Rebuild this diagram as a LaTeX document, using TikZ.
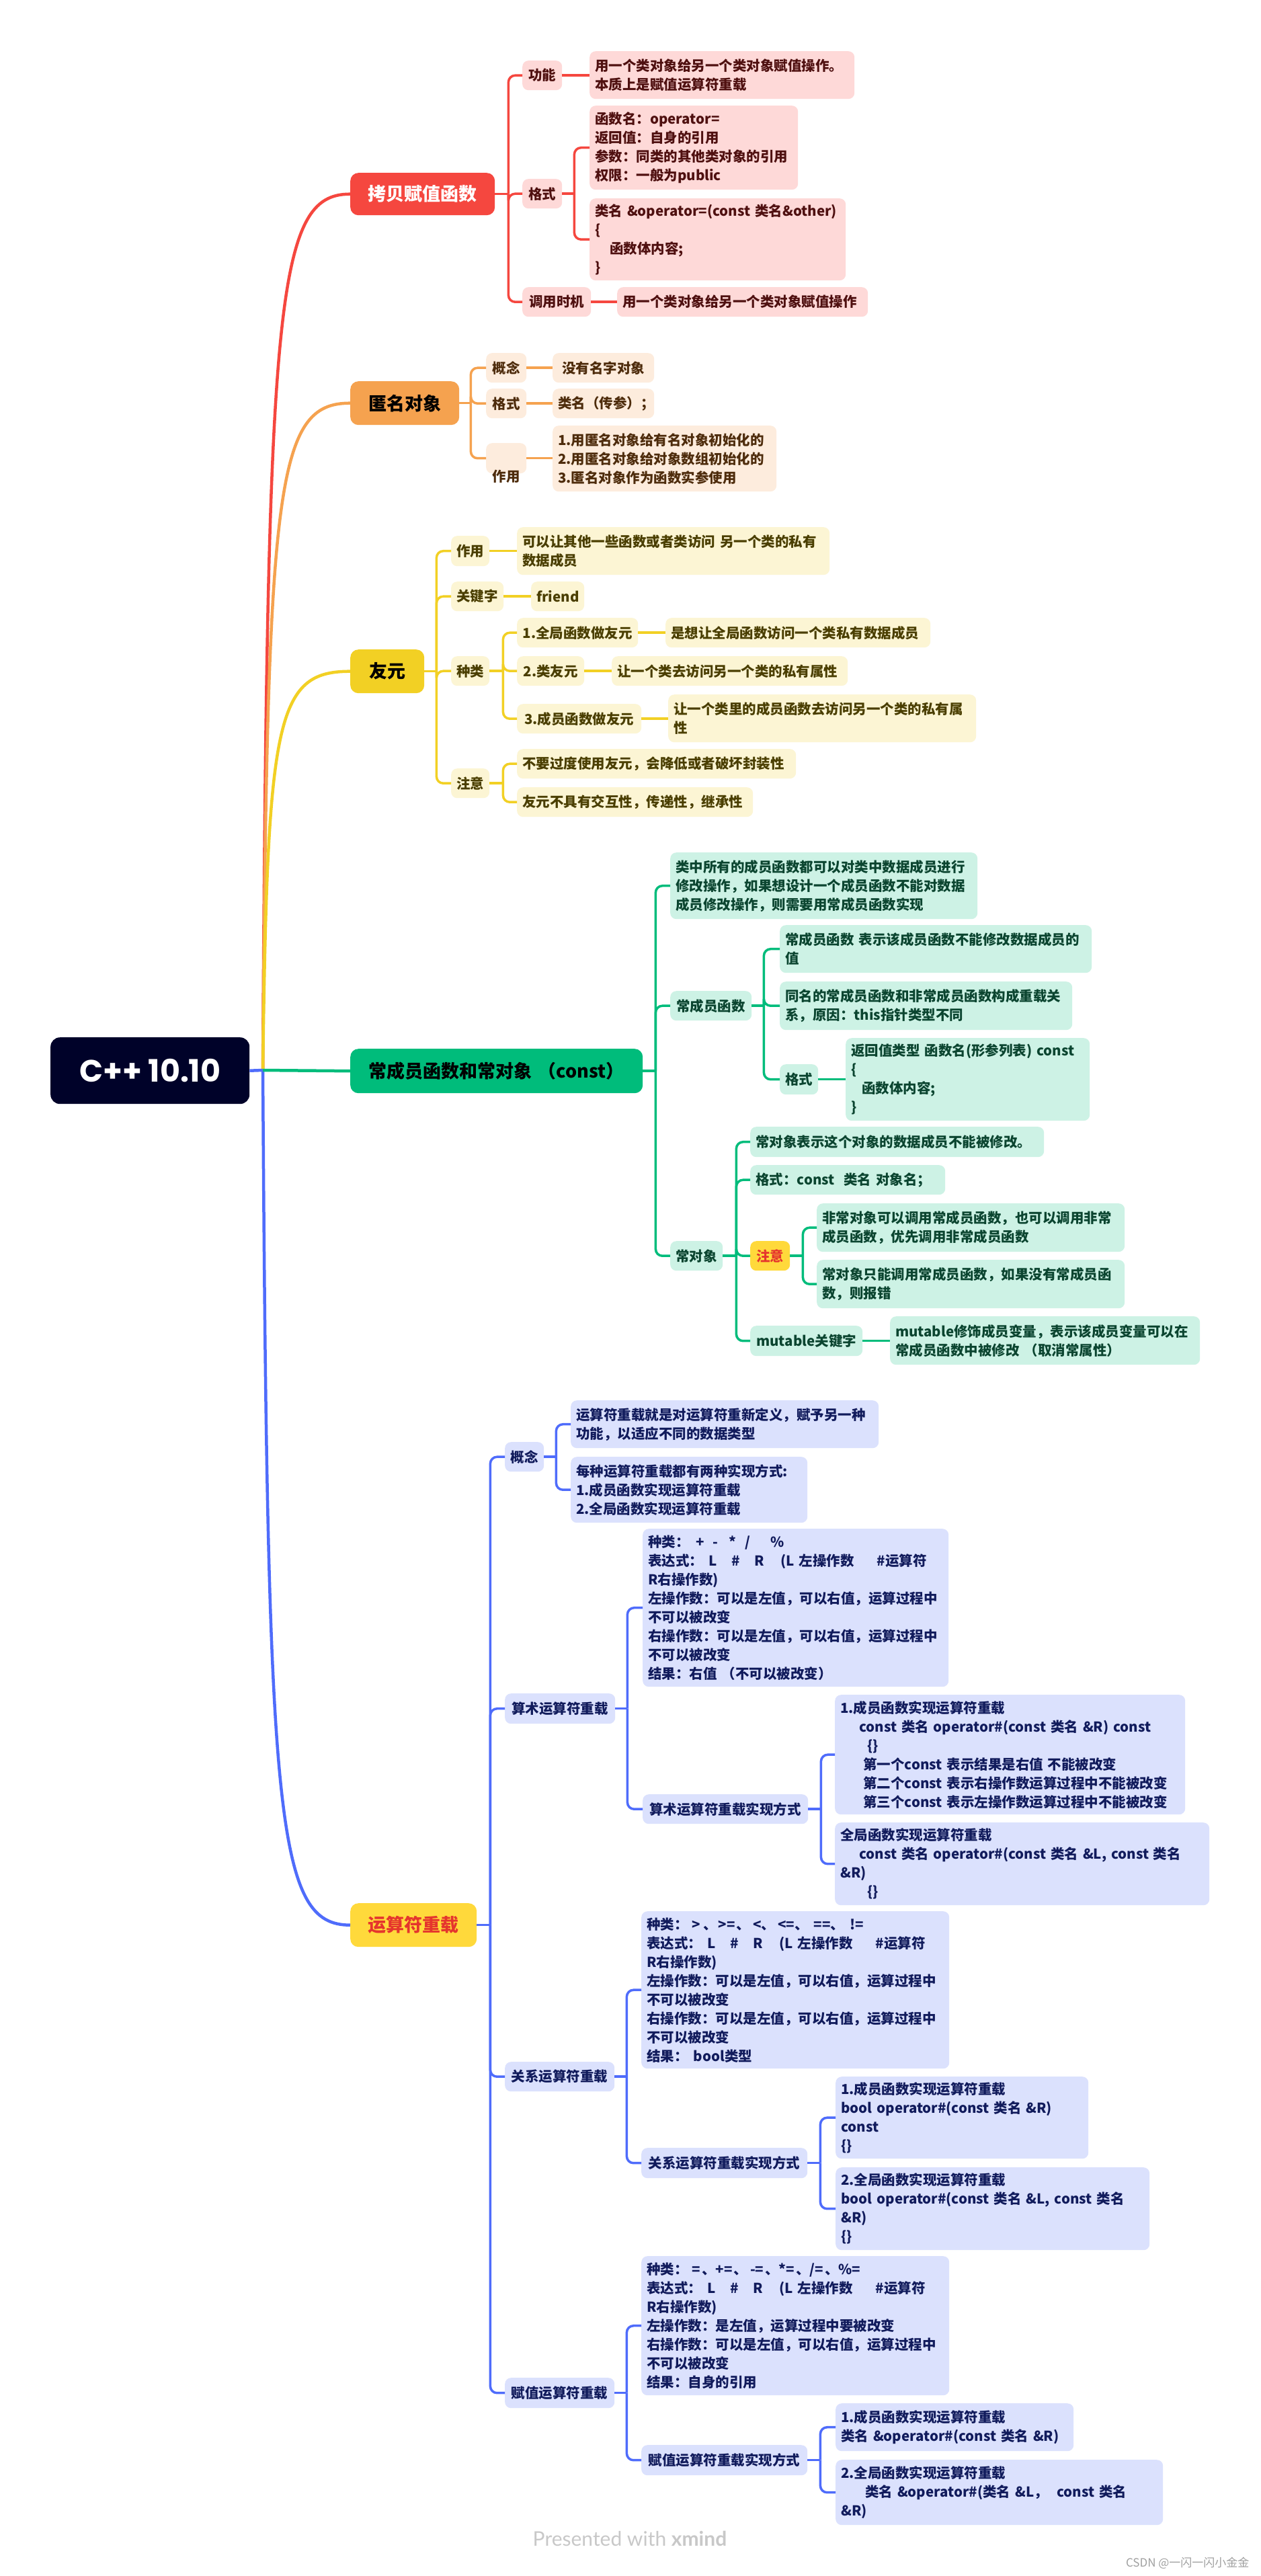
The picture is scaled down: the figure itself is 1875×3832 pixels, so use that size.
\documentclass[tikz,border=0pt]{standalone}
\usepackage{fontspec}
\setmainfont{Noto Sans CJK SC}
\newfontfamily\rootfont{Poppins}
\newfontfamily\footfont{Lato}
\definecolor{rootC}{HTML}{000229}
\definecolor{redC}{HTML}{F5473F}
\definecolor{redL}{HTML}{FED9D8}
\definecolor{redT}{HTML}{4F1010}
\definecolor{orgC}{HTML}{F5A24F}
\definecolor{orgL}{HTML}{FDECDD}
\definecolor{orgT}{HTML}{4E2C0C}
\definecolor{yelC}{HTML}{F2D024}
\definecolor{yelL}{HTML}{FCF5D4}
\definecolor{yelT}{HTML}{4A3E00}
\definecolor{grnC}{HTML}{00BC7B}
\definecolor{grnL}{HTML}{CDF2E5}
\definecolor{grnT}{HTML}{0B4530}
\definecolor{bluC}{HTML}{4F6CFB}
\definecolor{bluL}{HTML}{DBE1FD}
\definecolor{bluT}{HTML}{111B5C}
\definecolor{goldC}{HTML}{FFD93B}
\definecolor{warnT}{HTML}{E5352D}
\definecolor{footC}{HTML}{C8C8C8}
\tikzset{
 base/.style={anchor=north west, rounded corners=9pt, inner xsep=8pt, inner ysep=1pt, font=\bfseries\fontsize{20.5}{28}\selectfont, align=left},
 ctr/.style={align=center},
 rbx/.style={base, fill=redL, text=redT},
 obx/.style={base, fill=orgL, text=orgT},
 ybx/.style={base, fill=yelL, text=yelT},
 gbx/.style={base, fill=grnL, text=grnT},
 bbx/.style={base, fill=bluL, text=bluT},
 mainbox/.style={anchor=north west, rounded corners=12pt, inner xsep=8pt, font=\bfseries\fontsize{27}{32}\selectfont, align=center},
 conn/.style={line width=3.5pt, rounded corners=10pt},
 mline/.style={line width=4.5pt},
}
\newcommand\bx[7]{\pgfmathsetmacro\bxtw{#4-16}\node[#6, minimum width=#4pt, minimum height=#5pt, text width=\bxtw pt] (#1) at (#2,#3) {#7};}
\newcommand\ind[1]{\hspace*{#1pt}}
\newcommand\mcurve[3]{\pgfmathsetmacro\mcd{1592-#3}\pgfmathsetmacro\mcy{#3+0.12*\mcd}\draw[mline,#1] (J) .. controls (398,\mcy) and (410,#3) .. (#2.west);}
\begin{document}
\begin{tikzpicture}[x=1pt,y=-1pt]
\fill[white] (0,0) rectangle (1875,3832);
\useasboundingbox (0,0) rectangle (1875,3832);

% root
\node[anchor=north west, fill=rootC, rounded corners=14pt, minimum width=296pt, minimum height=99pt, text=white, font=\rootfont\bfseries\fontsize{46}{50}\selectfont] (root) at (75,1543) {C++ 10.10};
\coordinate (J) at (391,1592);

% ---------- red branch
\bx{rb}{521}{257}{215}{63}{mainbox, fill=redC, text=white}{拷贝赋值函数}
\bx{r1}{777}{90}{59}{44}{rbx,ctr}{功能}
\bx{r1a}{877}{76}{394}{71}{rbx}{用一个类对象给另一个类对象赋值操作。\\本质上是赋值运算符重载}
\bx{r2}{777}{266}{59}{44}{rbx,ctr}{格式}
\bx{r2a}{877}{157}{310}{125}{rbx}{函数名：operator=\\返回值：自身的引用\\参数：同类的其他类对象的引用\\权限：一般为public}
\bx{r2b}{877}{295}{381}{122}{rbx}{类名 \&operator=(const 类名\&other)\\\{\\\ind{22}函数体内容;\\\}}
\bx{r3}{777}{427}{102}{44}{rbx,ctr}{调用时机}
\bx{r3a}{918}{427}{373}{44}{rbx}{用一个类对象给另一个类对象赋值操作}

% ---------- orange branch
\bx{ob}{521}{567}{162}{65}{mainbox, fill=orgC, text=black}{匿名对象}
\bx{o1}{723}{525}{60}{44}{obx,ctr}{概念}
\bx{o1a}{822}{525}{151}{44}{obx}{\ind{6}没有名字对象}
\bx{o2}{723}{578}{60}{44}{obx,ctr}{格式}
\bx{o2a}{822}{578}{151}{44}{obx}{类名（传参）；}
\bx{o3}{723}{659}{60}{45}{obx,ctr}{}
\node[font=\bfseries\fontsize{20.5}{28}\selectfont, text=orgT] (o3t) at (753,709) {作用};
\bx{o3a}{822}{633}{333}{98}{obx}{1.用匿名对象给有名对象初始化的\\2.用匿名对象给对象数组初始化的\\3.匿名对象作为函数实参使用}

% ---------- yellow branch
\bx{yb}{521}{966}{110}{65}{mainbox, fill=yelC, text=black}{友元}
\bx{y1}{671}{797}{57}{45}{ybx,ctr}{作用}
\bx{y1a}{769}{784}{465}{71}{ybx}{可以让其他一些函数或者类访问 另一个类的私有\\数据成员}
\bx{y2}{671}{865}{78}{44}{ybx,ctr}{关键字}
\bx{y2a}{790}{865}{79}{44}{ybx,ctr}{friend}
\bx{y3}{671}{976}{57}{44}{ybx,ctr}{种类}
\bx{y31}{769}{919}{180}{44}{ybx,ctr}{1.全局函数做友元}
\bx{y31a}{990}{919}{394}{44}{ybx}{是想让全局函数访问一个类私有数据成员}
\bx{y32}{769}{976}{100}{44}{ybx,ctr}{2.类友元}
\bx{y32a}{910}{976}{351}{44}{ybx}{让一个类去访问另一个类的私有属性}
\bx{y33}{769}{1047}{185}{44}{ybx,ctr}{3.成员函数做友元}
\bx{y33a}{994}{1033}{458}{71}{ybx}{让一个类里的成员函数去访问另一个类的私有属\\性}
\bx{y4}{671}{1143}{57}{44}{ybx,ctr}{注意}
\bx{y4a}{769}{1114}{415}{44}{ybx}{不要过度使用友元，会降低或者破坏封装性}
\bx{y4b}{769}{1171}{351}{44}{ybx}{友元不具有交互性，传递性，继承性}

% ---------- green branch
\bx{gb}{521}{1560}{435}{66}{mainbox, fill=grnC, text=black}{常成员函数和常对象 （const）}
\bx{g0}{997}{1268}{457}{99}{gbx}{类中所有的成员函数都可以对类中数据成员进行\\修改操作，如果想设计一个成员函数不能对数据\\成员修改操作，则需要用常成员函数实现}
\bx{g1}{997}{1474}{121}{44}{gbx,ctr}{常成员函数}
\bx{g1a}{1160}{1376}{464}{71}{gbx}{常成员函数 表示该成员函数不能修改数据成员的\\值}
\bx{g1b}{1160}{1460}{435}{72}{gbx}{同名的常成员函数和非常成员函数构成重载关\\系，原因：this指针类型不同}
\bx{g1c}{1160}{1583}{57}{45}{gbx,ctr}{格式}
\bx{g1ca}{1258}{1544}{363}{123}{gbx}{返回值类型 函数名(形参列表) const\\\{\\\ind{16}函数体内容;\\\}}
\bx{g2}{997}{1846}{78}{44}{gbx,ctr}{常对象}
\bx{g2a}{1116}{1676}{437}{45}{gbx}{常对象表示这个对象的数据成员不能被修改。}
\bx{g2b}{1116}{1733}{290}{44}{gbx}{格式：const\ \ 类名 对象名；}
\bx{g2c}{1116}{1846}{59}{44}{base,ctr,fill=goldC,text=warnT}{注意}
\bx{g2c1}{1215}{1790}{458}{72}{gbx}{非常对象可以调用常成员函数，也可以调用非常\\成员函数，优先调用非常成员函数}
\bx{g2c2}{1215}{1874}{458}{72}{gbx}{常对象只能调用常成员函数，如果没有常成员函\\数，则报错}
\bx{g2d}{1116}{1972}{167}{45}{gbx,ctr}{mutable关键字}
\bx{g2da}{1324}{1958}{461}{72}{gbx}{mutable修饰成员变量，表示该成员变量可以在\\常成员函数中被修改 （取消常属性）}

% ---------- blue branch
\bx{bb}{521}{2831}{188}{65}{mainbox, fill=goldC, text=warnT}{运算符重载}
\bx{b1}{751}{2145}{58}{44}{bbx,ctr}{概念}
\bx{b1a}{849}{2083}{458}{71}{bbx}{运算符重载就是对运算符重新定义，赋予另一种\\功能，以适应不同的数据类型}
\bx{b1b}{849}{2167}{352}{98}{bbx}{每种运算符重载都有两种实现方式:\\1.成员函数实现运算符重载\\2.全局函数实现运算符重载}

\bx{b2}{751}{2519}{164}{45}{bbx,ctr}{算术运算符重载}
\bx{b2a}{956}{2274}{455}{235}{bbx}{种类：\hspace{10pt}+\hspace{12pt}-\hspace{16pt}*\hspace{14pt}/\hspace{30pt}\%\\表达式：\hspace{8pt}L\hspace{22pt}\#\hspace{22pt}R\hspace{24pt}(L 左操作数\hspace{34pt}\#运算符\\R右操作数)\\左操作数：可以是左值，可以右值，运算过程中\\不可以被改变\\右操作数：可以是左值，可以右值，运算过程中\\不可以被改变\\结果：右值 （不可以被改变）}
\bx{b2b}{956}{2669}{246}{44}{bbx,ctr}{算术运算符重载实现方式}
\bx{b2b1}{1242}{2521}{521}{178}{bbx}{1.成员函数实现运算符重载\\\ind{28}const 类名 operator\#(const 类名 \&R) const\\\ind{40}\{\}\\\ind{34}第一个const 表示结果是右值 不能被改变\\\ind{34}第二个const 表示右操作数运算过程中不能被改变\\\ind{34}第三个const 表示左操作数运算过程中不能被改变}
\bx{b2b2}{1242}{2711}{557}{123}{bbx}{全局函数实现运算符重载\\\ind{28}const 类名 operator\#(const 类名 \&L, const 类名\\\&R)\\\ind{40}\{\}}

\bx{b3}{751}{3067}{163}{44}{bbx,ctr}{关系运算符重载}
\bx{b3a}{954}{2843}{458}{234}{bbx}{种类：\hspace{6pt}>\hspace{4pt}、\hspace{2pt}>=\hspace{2pt}、\hspace{4pt}<、\hspace{4pt}<=、\hspace{8pt}==、\hspace{8pt}!=\\表达式：\hspace{8pt}L\hspace{22pt}\#\hspace{22pt}R\hspace{24pt}(L 左操作数\hspace{34pt}\#运算符\\R右操作数)\\左操作数：可以是左值，可以右值，运算过程中\\不可以被改变\\右操作数：可以是左值，可以右值，运算过程中\\不可以被改变\\结果：\hspace{8pt}bool类型}
\bx{b3b}{954}{3195}{247}{45}{bbx,ctr}{关系运算符重载实现方式}
\bx{b3b1}{1243}{3089}{376}{122}{bbx}{1.成员函数实现运算符重载\\bool operator\#(const 类名 \&R)\\const\\\{\}}
\bx{b3b2}{1243}{3224}{467}{123}{bbx}{2.全局函数实现运算符重载\\bool operator\#(const 类名 \&L, const 类名\\\&R)\\\{\}}

\bx{b4}{751}{3537}{163}{45}{bbx,ctr}{赋值运算符重载}
\bx{b4a}{954}{3356}{458}{207}{bbx}{种类：\hspace{6pt}=\hspace{2pt}、+=\hspace{2pt}、\hspace{4pt}-=\hspace{2pt}、*=\hspace{2pt}、/=\hspace{2pt}、\%=\\表达式：\hspace{8pt}L\hspace{22pt}\#\hspace{22pt}R\hspace{24pt}(L 左操作数\hspace{34pt}\#运算符\\R右操作数)\\左操作数：是左值，运算过程中要被改变\\右操作数：可以是左值，可以右值，运算过程中\\不可以被改变\\结果：自身的引用}
\bx{b4b}{954}{3637}{247}{45}{bbx,ctr}{赋值运算符重载实现方式}
\bx{b4b1}{1243}{3575}{354}{71}{bbx}{1.成员函数实现运算符重载\\类名 \&operator\#(const 类名 \&R)}
\bx{b4b2}{1243}{3659}{487}{97}{bbx}{2.全局函数实现运算符重载\\\ind{36}类名 \&operator\#(类名 \&L，\ \ const 类名\\\&R)}

% ---------- main connectors
\mcurve{redC}{rb}{288.5}
\mcurve{orgC}{ob}{599.5}
\mcurve{yelC}{yb}{998.5}
\mcurve{bluC}{bb}{2863.5}
\draw[mline,grnC] (J) -- (gb.west);
\draw[mline,bluC] (root.east) -- (J);

% red connectors
\draw[conn,redC] (rb.east) -- ++(20,0) coordinate (rbs);
\foreach \n in {r1,r2,r3} \draw[conn,redC] (rbs) |- (\n.west);
\draw[conn,redC] (r1.east) -- (r1.east -| r1a.west);
\draw[conn,redC] (r2.east) -- ++(18,0) coordinate (r2s);
\foreach \n in {r2a,r2b} \draw[conn,redC] (r2s) |- (\n.west);
\draw[conn,redC] (r3.east) -- (r3.east -| r3a.west);

% orange connectors
\draw[conn,orgC] (ob.east) -- ++(17,0) coordinate (obs);
\foreach \n in {o1,o2,o3} \draw[conn,orgC] (obs) |- (\n.west);
\draw[conn,orgC] (o1.east) -- (o1.east -| o1a.west);
\draw[conn,orgC] (o2.east) -- (o2.east -| o2a.west);
\draw[conn,orgC] (o3.east) -- (o3.east -| o3a.west);

% yellow connectors
\draw[conn,yelC] (yb.east) -- ++(18,0) coordinate (ybs);
\foreach \n in {y1,y2,y3,y4} \draw[conn,yelC] (ybs) |- (\n.west);
\draw[conn,yelC] (y1.east) -- (y1.east -| y1a.west);
\draw[conn,yelC] (y2.east) -- (y2.east -| y2a.west);
\draw[conn,yelC] (y3.east) -- ++(20,0) coordinate (y3s);
\foreach \n in {y31,y32,y33} \draw[conn,yelC] (y3s) |- (\n.west);
\draw[conn,yelC] (y31.east) -- (y31.east -| y31a.west);
\draw[conn,yelC] (y32.east) -- (y32.east -| y32a.west);
\draw[conn,yelC] (y33.east) -- (y33.east -| y33a.west);
\draw[conn,yelC] (y4.east) -- ++(20,0) coordinate (y4s);
\foreach \n in {y4a,y4b} \draw[conn,yelC] (y4s) |- (\n.west);

% green connectors
\draw[conn,grnC] (gb.east) -- ++(19,0) coordinate (gbs);
\foreach \n in {g0,g1,g2} \draw[conn,grnC] (gbs) |- (\n.west);
\draw[conn,grnC] (g1.east) -- ++(18,0) coordinate (g1s);
\foreach \n in {g1a,g1b,g1c} \draw[conn,grnC] (g1s) |- (\n.west);
\draw[conn,grnC] (g1c.east) -- (g1c.east -| g1ca.west);
\draw[conn,grnC] (g2.east) -- ++(20,0) coordinate (g2s);
\foreach \n in {g2a,g2b,g2c,g2d} \draw[conn,grnC] (g2s) |- (\n.west);
\draw[conn,grnC] (g2c.east) -- ++(19,0) coordinate (g2cs);
\foreach \n in {g2c1,g2c2} \draw[conn,grnC] (g2cs) |- (\n.west);
\draw[conn,grnC] (g2d.east) -- (g2d.east -| g2da.west);

% blue connectors
\draw[conn,bluC] (bb.east) -- ++(20,0) coordinate (bbs);
\foreach \n in {b1,b2,b3,b4} \draw[conn,bluC] (bbs) |- (\n.west);
\draw[conn,bluC] (b1.east) -- ++(18,0) coordinate (b1s);
\foreach \n in {b1a,b1b} \draw[conn,bluC] (b1s) |- (\n.west);
\draw[conn,bluC] (b2.east) -- ++(18,0) coordinate (b2s);
\foreach \n in {b2a,b2b} \draw[conn,bluC] (b2s) |- (\n.west);
\draw[conn,bluC] (b2b.east) -- ++(19,0) coordinate (b2bs);
\foreach \n in {b2b1,b2b2} \draw[conn,bluC] (b2bs) |- (\n.west);
\draw[conn,bluC] (b3.east) -- ++(18,0) coordinate (b3s);
\foreach \n in {b3a,b3b} \draw[conn,bluC] (b3s) |- (\n.west);
\draw[conn,bluC] (b3b.east) -- ++(19,0) coordinate (b3bs);
\foreach \n in {b3b1,b3b2} \draw[conn,bluC] (b3bs) |- (\n.west);
\draw[conn,bluC] (b4.east) -- ++(18,0) coordinate (b4s);
\foreach \n in {b4a,b4b} \draw[conn,bluC] (b4s) |- (\n.west);
\draw[conn,bluC] (b4b.east) -- ++(19,0) coordinate (b4bs);
\foreach \n in {b4b1,b4b2} \draw[conn,bluC] (b4bs) |- (\n.west);

% footer
\node[font=\footfont\fontsize{30}{34}\selectfont, text=footC] (pw) at (937,3776) {Presented with \textbf{xmind}};
\node[anchor=east, font=\fontsize{17}{20}\selectfont, text=footC!80!black] (csdn) at (1862,3813) {CSDN @一闪一闪小金金};
\end{tikzpicture}
\end{document}
